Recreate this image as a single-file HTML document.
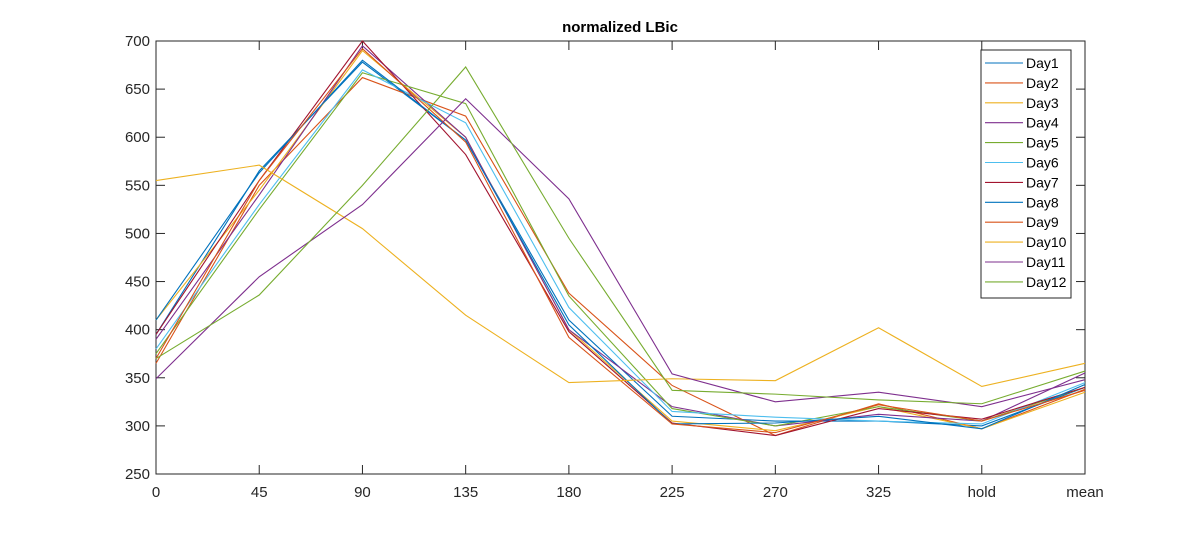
<!DOCTYPE html>
<html><head><meta charset="utf-8"><style>
body{margin:0;background:#fff;}
svg{display:block;font-family:"Liberation Sans",sans-serif;}
</style></head><body>
<svg id="chart" width="1200" height="533" viewBox="0 0 1200 533">
<rect width="1200" height="533" fill="#fff"/>
<text x="620" y="32" text-anchor="middle" font-size="15" font-weight="bold" fill="#000">normalized LBic</text>
<g id="axes"></g>
<g id="lines"></g>
<g id="legend"></g>
</svg>
<script>
const categories=["0","45","90","135","180","225","270","325","hold","mean"];
const yTicks=[250,300,350,400,450,500,550,600,650,700];
const seriesNames=["Day1","Day2","Day3","Day4","Day5","Day6","Day7","Day8","Day9","Day10","Day11","Day12"];
const day1=[395,565,678,597,410,310,305,305,300,340];
const day2=[365,550,662,622,438,342,290,323,297,338];
const day3=[410,545,690,600,400,305,295,320,297,335];
const day4=[390,540,695,600,400,320,300,312,305,355];
const day5=[375,525,667,635,435,318,300,320,305,340];
const day6=[380,530,670,615,423,315,309,305,302,345];
const day7=[395,555,700,582,398,303,290,318,307,340];
const day8=[410,563,680,597,405,302,303,310,297,343];
const day9=[370,555,692,595,392,302,293,322,305,337];
const day10=[555,571,505,415,345,349,347,402,341,365];
const day11=[349,455,530,640,536,354,325,335,320,348];
const day12=[370,436,550,673,495,337,333,327,323,357];
const seriesValues=[day1,day2,day3,day4,day5,day6,day7,day8,day9,day10,day11,day12];
const colors=["#0072BD","#D95319","#EDB120","#7E2F8E","#77AC30","#4DBEEE","#A2142F"];

const NS="http://www.w3.org/2000/svg";
const L=156,R=1085,T=41,B=474;
const xS=i=>L+i*(R-L)/(categories.length-1);
const yS=v=>B-(v-250)*(B-T)/450;
function mk(tag,attrs,parent){const e=document.createElementNS(NS,tag);for(const k in attrs)e.setAttribute(k,attrs[k]);parent.appendChild(e);return e;}
const ax=document.getElementById('axes');
const box=mk('rect',{x:L,y:T,width:R-L,height:B-T,fill:'none',stroke:'#262626','stroke-width':1},ax);


yTicks.forEach(v=>{
  const y=yS(v);
  const t=mk('line',{x1:L,x2:L+9,y1:y,y2:y,stroke:'#262626'},ax);
  
  
  const t2=mk('line',{x1:R,x2:R-9,y1:y,y2:y,stroke:'#262626'},ax);
  
  
  const lb=mk('text',{x:L-6,y:y+5,'text-anchor':'end','font-size':15,fill:'#262626'},ax);
  lb.textContent=v;
  
  
});
categories.forEach((c,i)=>{
  const x=xS(i);
  const t=mk('line',{x1:x,x2:x,y1:B,y2:B-9,stroke:'#262626'},ax);
  
  
  const t2=mk('line',{x1:x,x2:x,y1:T,y2:T+9,stroke:'#262626'},ax);
  
  
  const lb=mk('text',{x:x,y:B+23,'text-anchor':'middle','font-size':15,fill:'#262626'},ax);
  lb.textContent=c;
  
  
});
const lg=document.getElementById('lines');
seriesValues.forEach((vals,s)=>{
  const p=mk('polyline',{points:vals.map((v,i)=>xS(i)+','+yS(v)).join(' '),fill:'none',stroke:colors[s%7],'stroke-width':1.1},lg);
  
  
});
const leg=document.getElementById('legend');
const lr=mk('rect',{x:981,y:50,width:90,height:248,fill:'#fff',stroke:'#262626'},leg);


seriesNames.forEach((n,s)=>{
  const y=63+s*19.9;
  const g=mk('g',{},leg);
  
  
  mk('line',{x1:985,x2:1023,y1:y,y2:y,stroke:colors[s%7],'stroke-width':1.1},g);
  const t=mk('text',{x:1026,y:y+5,'font-size':14,fill:'#000'},g);
  t.textContent=n;
});
</script>
</body></html>
